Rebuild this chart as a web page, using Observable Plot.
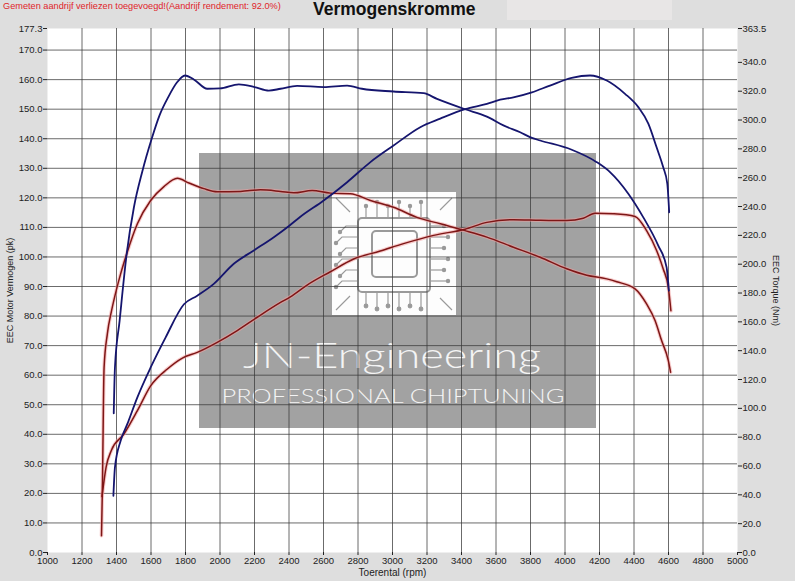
<!DOCTYPE html>
<html lang="nl">
<head>
<meta charset="UTF-8">
<title>Vermogenskromme</title>
<style>
  body { margin: 0; background: #dedede; font-family: "Liberation Sans", Arial, sans-serif; }
  #wrap { position: relative; width: 795px; height: 581px; }
  #note { position: absolute; left: 3px; top: 1px; font-size: 9.2px; color: #e0242a; z-index: 2; }
  #titlebox { position: absolute; left: 507px; top: 0; width: 165px; height: 20px; background: #e8e6e6; }
  #title { position: absolute; left: 313px; top: -1px; font-size: 17.5px; font-weight: bold; color: #111; z-index: 2; }
  #chart svg { display: block; }
</style>
<script src="https://cdn.jsdelivr.net/npm/d3@7"></script>
<script src="https://cdn.jsdelivr.net/npm/@observablehq/plot@0.6"></script>
</head>
<body>
<div id="wrap">
  <div id="titlebox"></div>
  <div id="note">Gemeten aandrijf verliezen toegevoegd!(Aandrijf rendement: 92.0%)</div>
  <div id="title">Vermogenskromme</div>
  <div id="chart"></div>
</div>
<script>
// ---- data ----
// tuned torque (Nm, right axis)
const tqTunedRpm = [1384, 1391, 1418, 1459, 1501, 1550, 1604, 1650, 1700, 1750, 1797, 1850, 1926, 2000, 2109, 2200, 2283, 2351, 2447, 2601, 2737, 2823, 3006, 3180, 3258, 3421, 3547, 3643, 3740, 3808, 3856, 4039, 4184, 4261, 4367, 4454, 4540, 4589, 4602];
const tqTunedNm  = [96.6, 128.3, 160.7, 207.1, 239.5, 264.5, 287.0, 303.4, 315.9, 326.0, 330.9, 328.0, 321.7, 321.9, 324.8, 322.9, 320.4, 321.7, 323.7, 322.9, 323.9, 321.7, 319.8, 318.6, 314.7, 307.5, 302.4, 296.3, 291.5, 287.6, 285.8, 279.4, 270.8, 263.9, 248.9, 232.5, 213.0, 197.8, 181.6];

// tuned power (pk, left axis)
const pwTunedRpm = [1382, 1391, 1424, 1463, 1521, 1598, 1685, 1791, 1868, 1964, 2080, 2196, 2312, 2400, 2466, 2601, 2737, 2872, 3006, 3161, 3277, 3421, 3547, 3624, 3701, 3808, 3913, 4039, 4145, 4242, 4348, 4425, 4483, 4531, 4569, 4593, 4604];
const pwTunedPk  = [19.2, 28.8, 37.8, 43.5, 52.5, 62.6, 72.8, 84.0, 86.9, 90.9, 97.7, 102.2, 106.7, 110.5, 113.6, 119.1, 125.3, 132.1, 137.7, 143.9, 146.8, 150.0, 151.8, 153.2, 154.0, 155.7, 158.0, 160.6, 161.4, 159.7, 155.2, 150.7, 145.1, 137.1, 130.4, 124.8, 115.1];

// stock torque (Nm, right axis)
const tqStockRpm = [1313, 1318, 1328, 1347, 1372, 1400, 1424, 1459, 1521, 1598, 1675, 1753, 1820, 1907, 1984, 2119, 2235, 2351, 2428, 2534, 2640, 2756, 2872, 3006, 3142, 3277, 3421, 3547, 3701, 3856, 4010, 4126, 4242, 4300, 4406, 4473, 4522, 4560, 4599, 4612];
const tqStockNm  = [11.7, 42.8, 128.3, 151.7, 168.1, 182.5, 193.3, 207.1, 228.0, 244.2, 253.8, 259.6, 256.3, 252.4, 250.3, 250.5, 251.6, 250.5, 249.5, 251.1, 249.3, 248.9, 244.2, 239.5, 232.5, 228.0, 223.3, 218.8, 211.8, 204.8, 196.8, 192.3, 189.8, 187.8, 182.9, 172.4, 160.9, 147.0, 133.1, 125.1];

// stock power (pk, left axis)
const pwStockRpm = [1316, 1340, 1370, 1443, 1521, 1598, 1695, 1782, 1868, 1984, 2100, 2216, 2351, 2408, 2505, 2640, 2775, 2929, 3064, 3238, 3421, 3547, 3701, 3856, 4010, 4106, 4174, 4280, 4406, 4473, 4531, 4569, 4599, 4614];
const pwStockPk  = [19.0, 29.0, 34.5, 40.1, 48.0, 56.4, 62.1, 65.8, 67.7, 71.1, 75.1, 79.6, 84.6, 86.5, 90.5, 95.0, 99.3, 102.0, 104.5, 107.3, 109.4, 111.7, 112.6, 112.4, 112.3, 113.1, 114.8, 114.6, 113.7, 108.9, 102.2, 96.0, 89.7, 81.8];

// axes
const rpmTicks   = [1000, 1200, 1400, 1600, 1800, 2000, 2200, 2400, 2600, 2800, 3000, 3200, 3400, 3600, 3800, 4000, 4200, 4400, 4600, 4800, 5000];
const rpmGrid    = [1200, 1400, 1600, 1800, 2000, 2200, 2400, 2600, 2800, 3000, 3200, 3400, 3600, 3800, 4000, 4200, 4400, 4600, 4800];
const pkTicks    = [0, 10, 20, 30, 40, 50, 60, 70, 80, 90, 100, 110, 120, 130, 140, 150, 160, 170, 177.3];
const pkGrid     = [10, 20, 30, 40, 50, 60, 70, 80, 90, 100, 110, 120, 130, 140, 150, 160, 170];
const nmTicks    = [0, 20, 40, 60, 80, 100, 120, 140, 160, 180, 200, 220, 240, 260, 280, 300, 320, 340, 363.5];
const pkMax = 177.3;
const nmMax = 363.5;
const k = pkMax / nmMax; // Nm -> left-axis units

const rows = (rpm, vals) => rpm.map((r, i) => ({rpm: r, v: vals[i]}));
const tqTuned = rows(tqTunedRpm, tqTunedNm);
const pwTuned = rows(pwTunedRpm, pwTunedPk);
const tqStock = rows(tqStockRpm, tqStockNm);
const pwStock = rows(pwStockRpm, pwStockPk);

const W = 795, H = 581;
const M = {top: 28, right: 58, bottom: 29, left: 47};

// watermark drawn under the grid
function watermark() {
  const g = d3.create("svg:g");
  g.append("rect").attr("x", 199).attr("y", 153).attr("width", 397).attr("height", 275).attr("fill", "#a2a2a2");
  g.append("rect").attr("x", 332).attr("y", 192).attr("width", 124).attr("height", 123).attr("fill", "#fdfdfd");
  const c = g.append("g").attr("fill", "none").attr("stroke", "#9a9a9a").attr("stroke-width", 1.2);
  c.append("rect").attr("x", 358).attr("y", 218).attr("width", 72).attr("height", 74).attr("rx", 4).attr("stroke-width", 2);
  c.append("rect").attr("x", 372).attr("y", 231).attr("width", 45).attr("height", 46).attr("rx", 4).attr("stroke-width", 2);
  // traces
  for (let i = 0; i < 6; i++) {
    const y = 226 + i * 11;
    c.append("path").attr("d", `M358,${y} L${346 - (i % 2) * 4},${y} L${340 - (i % 2) * 4},${y + 6}`);
    c.append("circle").attr("cx", 340 - (i % 2) * 4).attr("cy", y + 6).attr("r", 1.6).attr("fill", "#9a9a9a");
    c.append("path").attr("d", `M430,${y} L${444 + (i % 2) * 4},${y}`);
    c.append("circle").attr("cx", 444 + (i % 2) * 4).attr("cy", y).attr("r", 1.6).attr("fill", "#9a9a9a");
  }
  for (let i = 0; i < 6; i++) {
    const x = 366 + i * 11;
    c.append("path").attr("d", `M${x},218 L${x},${206 - (i % 2) * 4}`);
    c.append("circle").attr("cx", x).attr("cy", 206 - (i % 2) * 4).attr("r", 1.6).attr("fill", "#9a9a9a");
    c.append("path").attr("d", `M${x},292 L${x},${306 + (i % 2) * 3}`);
    c.append("circle").attr("cx", x).attr("cy", 306 + (i % 2) * 3).attr("r", 1.8).attr("fill", "#9a9a9a");
  }
  c.append("path").attr("d", "M336,198 L350,212 M452,198 L440,210 M336,310 L350,296 M452,310 L440,298");
  g.append("text").attr("x", 392).attr("y", 368).attr("text-anchor", "middle")
    .attr("font-family", "Lato, 'Open Sans', sans-serif").attr("font-weight", 300).attr("font-size", 35)
    .attr("fill", "#f4f4f4").attr("textLength", 298).attr("lengthAdjust", "spacingAndGlyphs").text("JN-Engineering");
  g.append("text").attr("x", 393).attr("y", 403).attr("text-anchor", "middle")
    .attr("font-family", "Lato, 'Open Sans', sans-serif").attr("font-weight", 300).attr("font-size", 19)
    .attr("fill", "#f4f4f4").attr("textLength", 343).attr("lengthAdjust", "spacingAndGlyphs").text("PROFESSIONAL CHIPTUNING");
  return g.node();
}

const blue = "#15156e";
const red = "#7e1616";
const halo = "#f2a0a0";

const plot = Plot.plot({
  width: W,
  height: H,
  marginTop: M.top,
  marginRight: M.right,
  marginBottom: M.bottom,
  marginLeft: M.left,
  x: {domain: [1000, 5000]},
  y: {domain: [0, pkMax]},
  style: {background: "transparent", color: "#222", fontSize: "9.5px", fontFamily: "'Liberation Sans', Arial, sans-serif"},
  marks: [
    Plot.frame({fill: "white", stroke: "none"}),
    watermark,
    Plot.gridX(rpmGrid, {stroke: "#3a3a3a", strokeOpacity: 0.75}),
    Plot.gridY(pkGrid, {stroke: "#3a3a3a", strokeOpacity: 0.75}),
    // stock (red) with a soft halo
    Plot.line(pwStock, {x: "rpm", y: "v", stroke: halo, strokeWidth: 3.6, strokeOpacity: 0.55, curve: "monotone-x"}),
    Plot.line(tqStock, {x: "rpm", y: d => d.v * k, stroke: halo, strokeWidth: 3.6, strokeOpacity: 0.55, curve: "monotone-x"}),
    Plot.line(pwStock, {x: "rpm", y: "v", stroke: red, strokeWidth: 1.5, curve: "monotone-x"}),
    Plot.line(tqStock, {x: "rpm", y: d => d.v * k, stroke: red, strokeWidth: 1.5, curve: "monotone-x"}),
    // tuned (blue)
    Plot.line(pwTuned, {x: "rpm", y: "v", stroke: blue, strokeWidth: 1.8, curve: "monotone-x"}),
    Plot.line(tqTuned, {x: "rpm", y: d => d.v * k, stroke: blue, strokeWidth: 1.8, curve: "monotone-x"}),
    // axes
    Plot.axisX(rpmTicks, {tickFormat: d => String(d), tickSize: 3, tickPadding: 2, label: null}),
    Plot.axisY(pkTicks, {anchor: "left", tickFormat: d => d.toFixed(1), tickSize: 4, tickPadding: 1, label: null}),
    Plot.axisY(nmTicks.map(t => t * k), {anchor: "right", tickFormat: d => (d / k).toFixed(1), tickSize: 4, tickPadding: 1, label: null}),
    Plot.text(["EEC Motor Vermogen (pk)"], {frameAnchor: "left", dx: -37, rotate: -90, textAnchor: "middle", fontSize: 9, fill: "#222"}),
    Plot.text(["EEC Torque (Nm)"], {frameAnchor: "right", dx: 38, rotate: 90, textAnchor: "middle", fontSize: 9, fill: "#222"}),
    Plot.text(["Toerental (rpm)"], {frameAnchor: "bottom", dy: 23, fontSize: 10, fill: "#222"})
  ]
});

document.getElementById("chart").appendChild(plot);
</script>
</body>
</html>
